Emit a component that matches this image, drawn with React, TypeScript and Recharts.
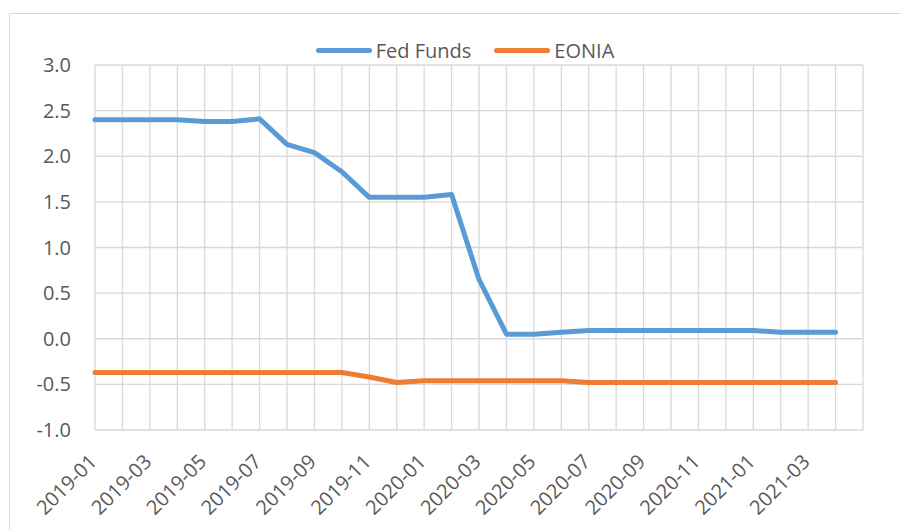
import React from 'react';
import { LineChart, Line, XAxis, YAxis, CartesianGrid, Legend } from 'recharts';

const months = [
  '2019-01', '2019-02', '2019-03', '2019-04', '2019-05', '2019-06', '2019-07',
  '2019-08', '2019-09', '2019-10', '2019-11', '2019-12', '2020-01', '2020-02',
  '2020-03', '2020-04', '2020-05', '2020-06', '2020-07', '2020-08', '2020-09',
  '2020-10', '2020-11', '2020-12', '2021-01', '2021-02', '2021-03', '2021-04',
];

const fedFunds = [
  2.40, 2.40, 2.40, 2.40, 2.38, 2.38, 2.41, 2.13, 2.04, 1.83, 1.55, 1.55, 1.55, 1.58,
  0.65, 0.05, 0.05, 0.07, 0.09, 0.09, 0.09, 0.09, 0.09, 0.09, 0.09, 0.07, 0.07, 0.07,
];

const eonia = [
  -0.37, -0.37, -0.37, -0.37, -0.37, -0.37, -0.37, -0.37, -0.37, -0.37, -0.42, -0.48, -0.46, -0.46,
  -0.46, -0.46, -0.46, -0.46, -0.48, -0.48, -0.48, -0.48, -0.48, -0.48, -0.48, -0.48, -0.48, -0.48,
];

const yTicks = [-1, -0.5, 0, 0.5, 1, 1.5, 2, 2.5, 3];

const FONT = "'Open Sans', sans-serif";
const FONT_SIZE = 20;
const TEXT = '#595959';
const BLUE = '#5B9BD5';
const ORANGE = '#ED7D31';

const data = months.map((m, i) => ({ idx: i, month: m, fed: fedFunds[i], eonia: eonia[i] }));
// one extra slot at the right end, like the Excel date axis
const xTicks = Array.from({ length: months.length + 1 }, (_, i) => i);

const MonthTick = (props: any) => {
  const { x, y, payload } = props;
  const i = payload.value;
  if (i % 2 !== 0 || !months[i]) return null;
  return (
    <text
      x={x + 3}
      y={y}
      transform={`rotate(-45, ${x + 3}, ${y})`}
      textAnchor="end"
      fill={TEXT}
      fontSize={FONT_SIZE}
      fontFamily={FONT}
    >
      {months[i]}
    </text>
  );
};

const LegendItem = ({ color, label }: { color: string; label: string }) => (
  <div style={{ display: 'flex', alignItems: 'center' }}>
    <div style={{ width: 56, height: 5, borderRadius: 3, background: color, marginRight: 4 }} />
    <span>{label}</span>
  </div>
);

const ChartLegend = () => (
  <div
    style={{
      width: 901,
      height: 30,
      display: 'flex',
      justifyContent: 'center',
      alignItems: 'center',
      gap: 23,
      paddingLeft: 29,
      boxSizing: 'border-box',
      fontFamily: FONT,
      fontSize: FONT_SIZE,
      color: TEXT,
    }}
  >
    <LegendItem color={BLUE} label="Fed Funds" />
    <LegendItem color={ORANGE} label="EONIA" />
  </div>
);

export default function App() {
  return (
    <div style={{ position: 'absolute', left: 0, top: 0, width: 901, height: 530, background: '#fff', overflow: 'hidden' }}>
      <div
        style={{
          position: 'absolute',
          left: 9,
          top: 13,
          width: 900,
          height: 540,
          border: '1px solid #d9d9d9',
        }}
      />
      <LineChart width={901} height={530} data={data} margin={{ top: 35, right: 38, left: 0, bottom: 0 }}>
        <CartesianGrid stroke="#d9d9d9" strokeWidth={1.3} />
        <XAxis
          dataKey="idx"
          type="number"
          domain={[0, months.length]}
          ticks={xTicks}
          interval={0}
          height={100}
          tick={<MonthTick />}
          tickLine={false}
          axisLine={false}
          tickSize={0}
          tickMargin={33}
        />
        <YAxis
          domain={[-1, 3]}
          ticks={yTicks}
          width={95}
          tickFormatter={(v: number) => v.toFixed(1)}
          tick={{ fill: TEXT, fontSize: FONT_SIZE, fontFamily: FONT }}
          tickLine={false}
          axisLine={false}
          tickSize={0}
          tickMargin={24}
        />
        <Legend verticalAlign="top" align="left" wrapperStyle={{ left: 0, top: 35 }} content={<ChartLegend />} />
        <Line
          dataKey="fed"
          name="Fed Funds"
          stroke={BLUE}
          strokeWidth={5}
          dot={false}
          strokeLinecap="round"
          strokeLinejoin="round"
          isAnimationActive={false}
        />
        <Line
          dataKey="eonia"
          name="EONIA"
          stroke={ORANGE}
          strokeWidth={5}
          dot={false}
          strokeLinecap="round"
          strokeLinejoin="round"
          isAnimationActive={false}
        />
      </LineChart>
    </div>
  );
}
